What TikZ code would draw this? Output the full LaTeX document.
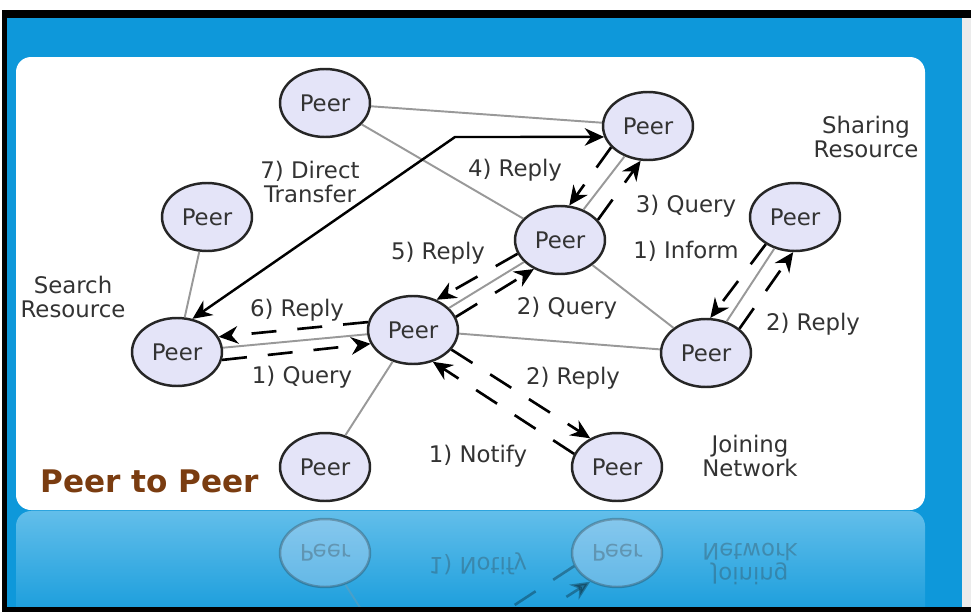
\documentclass[tikz,border=0pt]{standalone}
\usepackage{fontspec}
\setmainfont{DejaVu Sans}
\usetikzlibrary{arrows.meta,shapes.geometric}
\definecolor{slideblue}{RGB}{14,152,218}
\definecolor{glowblue}{RGB}{98,190,234}
\definecolor{peerfill}{RGB}{228,228,248}
\definecolor{titlebrown}{RGB}{122,60,16}
\tikzset{
	peer/.style={ellipse, draw=black!85, fill=peerfill, line width=1.4pt, minimum width=1.8cm, minimum height=1.36cm, inner sep=0pt, font=\fontsize{13pt}{14pt}\selectfont, text=black!80},
	peerlink/.style={draw=black!40, line width=1.1pt},
	tip/.style={-{Stealth[length=11pt,width=10pt]}},
	msg/.style={draw=black, line width=1.5pt, dash pattern=on 0.5cm off 0.42cm, tip},
	lbl/.style={align=center, font=\fontsize{13pt}{14pt}\selectfont, text=black!80},
}

\begin{document}
\begin{tikzpicture}[x=0.02cm, y=-0.02cm]
			%%%%% SLIDE %%%%%
			\useasboundingbox (0,0) rectangle (971,612);
			\fill[white] (0,0) rectangle (971,612);
			\fill[slideblue] (7,18) rectangle (962,607);
			\fill[black!8] (962,18) rectangle (971,607);
			\shade[top color=glowblue, bottom color=slideblue, rounded corners=0.3cm] (16,511) rectangle (925,630);
			
			% mirrored bottom row
			\begin{scope}
				\clip (16,511) rectangle (925,607);
				\begin{scope}[shift={(0,1020)}, yscale=-1, transform shape, opacity=0.3]
					\node[peer] (leafmirror) at (325,467) {Peer};
					\node[peer] (joinermirror) at (617,467) {Peer};
					\coordinate (hubmirror) at (413,330);
					\coordinate (hubmirrorA) at (450,349);
					\coordinate (hubmirrorB) at (432,361);
					\draw[peerlink] (leafmirror) -- (hubmirror);
					\draw[msg] (hubmirrorA) -- (joinermirror.133);
					\draw[msg] (joinermirror.163) -- (hubmirrorB);
					\node[lbl] at (478,456) {1) Notify};
					\node[lbl] at (750,456) {Joining\\Network};
				\end{scope}
			\end{scope}
			
			\fill[black] (2,10) rectangle (971,18);
			\fill[black] (2,10) rectangle (7,612);
			\fill[black] (2,607) rectangle (971,612);
			\fill[white, rounded corners=0.3cm] (16,57) rectangle (925,510);
			
			%%%%% PEERS %%%%%
			\node[peer] (top) at (325,103) {Peer};
			\node[peer] (holder) at (648,126) {Peer};
			\node[peer] (side) at (207,217) {Peer};
			\node[peer] (relay) at (560,240) {Peer};
			\node[peer] (sharer) at (795,217) {Peer};
			\node[peer] (searcher) at (177,352) {Peer};
			\node[peer] (hub) at (413,330) {Peer};
			\node[peer] (mid) at (706,353) {Peer};
			\node[peer] (leaf) at (325,467) {Peer};
			\node[peer] (joiner) at (617,467) {Peer};
			
			%%%%% LINKS %%%%%
			\draw[peerlink] (top) -- (holder);
			\draw[peerlink] (top) -- (relay);
			\draw[peerlink] (side) -- (searcher);
			\draw[peerlink] (searcher) -- (hub);
			\draw[peerlink] (hub) -- (relay);
			\draw[peerlink] (hub) -- (mid);
			\draw[peerlink] (hub) -- (leaf);
			\draw[peerlink] (relay) -- (holder);
			\draw[peerlink] (relay) -- (mid);
			\draw[peerlink] (mid) -- (sharer);
			
			%%%%% MESSAGES %%%%%
			\draw[msg] (searcher.-10) -- (hub.198);
			\draw[msg] (hub.170) -- (searcher.20);
			\draw[msg] (hub.17) -- (relay.228);
			\draw[msg] (relay.198) -- (hub.52);
			\draw[msg] (relay.28) -- (holder.258);
			\draw[msg] (holder.210) -- (relay.75);
			\draw[msg] (sharer.223) -- (mid.83);
			\draw[msg] (mid.36) -- (sharer.267);
			\draw[msg] (joiner.163) -- (hub.-58);
			\draw[msg] (hub.-27) -- (joiner.133);
			
			% direct transfer
			\coordinate (bend) at (455,137);
			\draw[line width=1.4pt, {Stealth[length=11pt,width=10pt]}-{Stealth[length=11pt,width=10pt]}] (searcher.65) -- (bend) -- (holder.194);
			
			%%%%% LABELS %%%%%
			\node[lbl] (lbltransfer) at (310,182) {7) Direct\\Transfer};
			\node[lbl] (lblreplyfour) at (515,170) {4) Reply};
			\node[lbl] (lblquerythree) at (686,206) {3) Query};
			\node[lbl] (lblinform) at (686,251) {1) Inform};
			\node[lbl] (lblreplyfive) at (438,253) {5) Reply};
			\node[lbl] (lblquerytwo) at (567,308) {2) Query};
			\node[lbl] (lblreplysix) at (297,310) {6) Reply};
			\node[lbl] (lblqueryone) at (302,377) {1) Query};
			\node[lbl] (lblreplyjoin) at (573,378) {2) Reply};
			\node[lbl] (lblreplyshare) at (813,324) {2) Reply};
			\node[lbl] (lblnotify) at (478,456) {1) Notify};
			\node[lbl] (lblsearch) at (73,297) {Search\\Resource};
			\node[lbl] (lblsharing) at (866,137) {Sharing\\Resource};
			\node[lbl] (lbljoining) at (750,456) {Joining\\Network};
			\node[anchor=base west, inner sep=0pt, text=titlebrown, font=\fontsize{17.7pt}{20pt}\selectfont\bfseries] (title) at (40,492) {Peer to Peer};
			
\end{tikzpicture}
\end{document}
